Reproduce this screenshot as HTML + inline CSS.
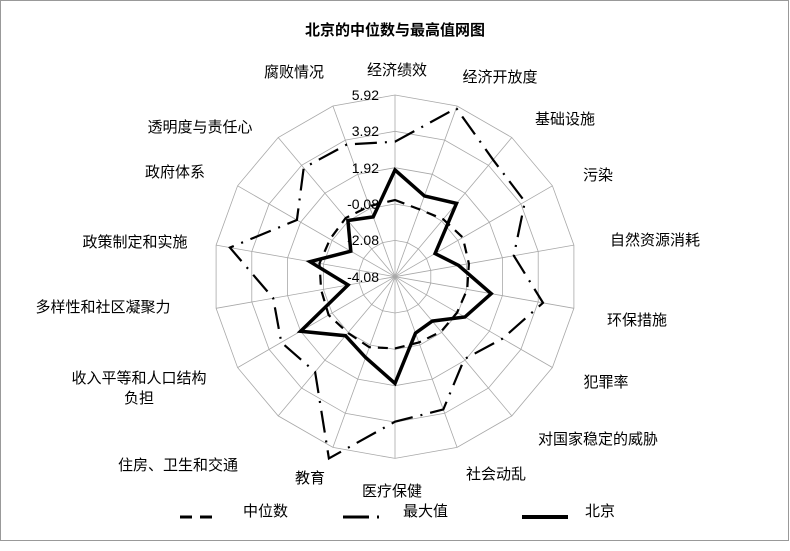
<!DOCTYPE html>
<html><head><meta charset="utf-8"><style>
body{margin:0;background:#fff;}
svg text{font-family:"Liberation Sans","Noto Sans CJK SC",sans-serif;font-size:15px;fill:#000;}
svg text.n{font-size:14px;}
</style></head><body>
<svg id="s" width="790" height="546" viewBox="0 0 790 546" xmlns="http://www.w3.org/2000/svg">
<rect x="0.5" y="0.5" width="788" height="540" fill="#fff" stroke="#999" stroke-width="1"/>
<g id="grid" stroke="#a8a8a8" stroke-width="0.8" fill="none"></g>
<g id="data" fill="none" stroke="#000"></g>
<text x="395" y="35" text-anchor="middle" style="font-weight:bold;font-size:15px">北京的中位数与最高值网图</text>
<g text-anchor="end">
<text class="n" x="379" y="100">5.92</text>
<text class="n" x="379" y="136">3.92</text>
<text class="n" x="379" y="173">1.92</text>
<text class="n" x="379" y="209">-0.08</text>
<text class="n" x="379" y="245">-2.08</text>
<text class="n" x="379" y="282">-4.08</text>
</g>
<g text-anchor="middle">
<text x="397" y="75">经济绩效</text>
<text x="500" y="82">经济开放度</text>
<text x="565" y="124">基础设施</text>
<text x="598" y="180">污染</text>
<text x="655" y="245">自然资源消耗</text>
<text x="637" y="325">环保措施</text>
<text x="606" y="387">犯罪率</text>
<text x="598" y="444">对国家稳定的威胁</text>
<text x="496" y="479">社会动乱</text>
<text x="392" y="496">医疗保健</text>
<text x="310" y="483">教育</text>
<text x="178" y="470">住房、卫生和交通</text>
<text x="139" y="383">收入平等和人口结构</text>
<text x="139" y="403">负担</text>
<text x="103" y="312">多样性和社区凝聚力</text>
<text x="135" y="247">政策制定和实施</text>
<text x="175" y="177">政府体系</text>
<text x="200" y="132">透明度与责任心</text>
<text x="294" y="77">腐败情况</text>
</g>
<line x1="180" y1="517" x2="218" y2="517" stroke="#000" stroke-width="3" stroke-dasharray="12,8"/>
<text x="243" y="516">中位数</text>
<line x1="343" y1="517" x2="381" y2="517" stroke="#000" stroke-width="3" stroke-dasharray="26,8,2,8"/>
<text x="403" y="516">最大值</text>
<line x1="522" y1="517" x2="568" y2="517" stroke="#000" stroke-width="4"/>
<text x="585" y="516">北京</text>
</svg>
<script>
var cx=395,cy=276.7,R=181.7,NS="http://www.w3.org/2000/svg";
function pt(i,r){var a=i*20*Math.PI/180;return [(cx+r*Math.sin(a)).toFixed(1),(cy-r*Math.cos(a)).toFixed(1)];}
var g=document.getElementById('grid');
for(var k=1;k<=5;k++){var p=[];for(var i=0;i<18;i++)p.push(pt(i,R*k/5).join(','));
var e=document.createElementNS(NS,'polygon');e.setAttribute('points',p.join(' '));g.appendChild(e);}
for(var i=0;i<18;i++){var q=pt(i,R);var l=document.createElementNS(NS,'line');
l.setAttribute('x1',cx);l.setAttribute('y1',cy);l.setAttribute('x2',q[0]);l.setAttribute('y2',q[1]);g.appendChild(l);}
var d=document.getElementById('data');
function poly(rs,w,da){var p=[];for(var i=0;i<18;i++)p.push(pt(i,rs[i]/3).join(','));
var e=document.createElementNS(NS,'polygon');e.setAttribute('points',p.join(' '));
e.setAttribute('stroke-width',w);if(da)e.setAttribute('stroke-dasharray',da);e.setAttribute('stroke-linejoin','miter');d.appendChild(e);}
poly([230,215,225,235,225,220,215,215,210,215,225,220,230,225,230,225,230,225],2.2,"10,7");
poly([405,538,458,450,362,451,372,323,424,435,580,373,394,371,503,340,426,422],2.2,"22,8,2,8");
poly([320,258,287,139,194,293,242,174,180,320,258,231,327,143,259,153,220,191],3.5,null);
</script>
</body></html>
